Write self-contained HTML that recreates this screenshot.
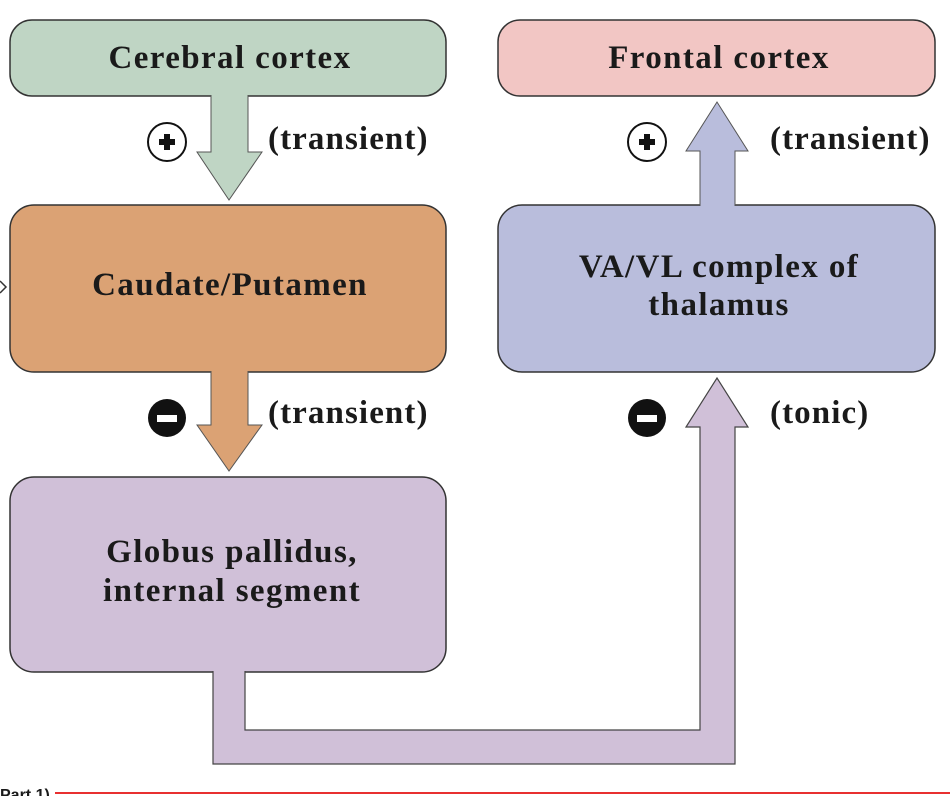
<!DOCTYPE html>
<html><head><meta charset="utf-8"><style>
html,body{margin:0;padding:0;background:#fff;width:950px;height:796px;overflow:hidden}
svg{display:block}
text{font-family:"Liberation Serif",serif;font-weight:bold;fill:#1a1a1a}
</style></head><body>
<svg width="950" height="796" viewBox="0 0 950 796" xmlns="http://www.w3.org/2000/svg">
<rect x="10" y="20" width="436" height="76" rx="22" fill="#bfd5c4" stroke="#333" stroke-width="1.5"/>
<rect x="498" y="20" width="437" height="76" rx="22" fill="#f2c6c4" stroke="#333" stroke-width="1.5"/>
<rect x="10" y="205" width="436" height="167" rx="24" fill="#dba274" stroke="#333" stroke-width="1.5"/>
<rect x="498" y="205" width="437" height="167" rx="24" fill="#b9bddc" stroke="#333" stroke-width="1.5"/>
<rect x="10" y="477" width="436" height="195" rx="24" fill="#d0c0d8" stroke="#333" stroke-width="1.5"/>
<path d="M211 95 L211 152 L197 152 L229 200 L262 152 L248 152 L248 95" fill="#bfd5c4" stroke="#555" stroke-width="1"/>
<path d="M211 371 L211 425 L197 425 L229 471 L262 425 L248 425 L248 371" fill="#dba274" stroke="#555" stroke-width="1"/>
<path d="M700 206 L700 151 L686 151 L717 102 L748 151 L735 151 L735 206" fill="#b9bddc" stroke="#555" stroke-width="1"/>
<path d="M213 671 L213 764 L735 764 L735 427 L748 427 L717 378 L686 427 L700 427 L700 730 L245 730 L245 671" fill="#d0c0d8" stroke="#444" stroke-width="1.2"/>
<path d="M0 281 L6 287 L0 293" fill="none" stroke="#333" stroke-width="1.5"/>
<circle cx="167" cy="142" r="19" fill="#fff" stroke="#111" stroke-width="2"/>
<rect x="159" y="139" width="16" height="6" fill="#111"/><rect x="164" y="134" width="6" height="16" fill="#111"/>
<circle cx="647" cy="142" r="19" fill="#fff" stroke="#111" stroke-width="2"/>
<rect x="639" y="139" width="16" height="6" fill="#111"/><rect x="644" y="134" width="6" height="16" fill="#111"/>
<circle cx="167" cy="418" r="19" fill="#111"/><rect x="157" y="415" width="20" height="7" fill="#fff"/>
<circle cx="647" cy="418" r="19" fill="#111"/><rect x="637" y="415" width="20" height="7" fill="#fff"/>
<g font-size="33" letter-spacing="1.4">
<text x="230" y="68" text-anchor="middle">Cerebral cortex</text>
<text x="719" y="68" text-anchor="middle">Frontal cortex</text>
<text x="230" y="295" text-anchor="middle">Caudate/Putamen</text>
<text x="719" y="277" text-anchor="middle">VA/VL complex of</text>
<text x="719" y="315" text-anchor="middle">thalamus</text>
<text x="232" y="562" text-anchor="middle">Globus pallidus,</text>
<text x="232" y="601" text-anchor="middle">internal segment</text>
</g>
<g font-size="33" letter-spacing="1.1">
<text x="268" y="149">(transient)</text>
<text x="770" y="149">(transient)</text>
<text x="268" y="423">(transient)</text>
<text x="770" y="423">(tonic)</text>
</g>
<text x="0" y="800" font-size="16" style="font-family:'Liberation Sans',sans-serif">Part 1)</text>
<rect x="55" y="792" width="895" height="2" fill="#e83030"/>
</svg>
</body></html>
